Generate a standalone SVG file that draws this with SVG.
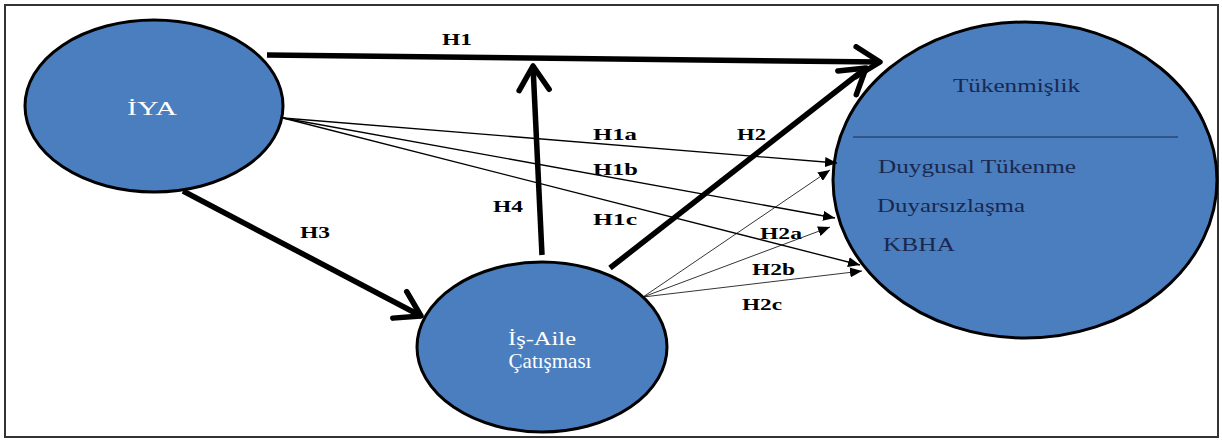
<svg xmlns="http://www.w3.org/2000/svg" width="1222" height="441" viewBox="0 0 1222 441">
<defs>
<style>
.node{fill:#4a7ebf;stroke:#000;stroke-width:3}
.thick{stroke:#000;stroke-width:5.5;fill:none;marker-end:url(#open)}
.thin{stroke:#000;stroke-width:1.3;fill:none;marker-end:url(#tri)}
.thin2{stroke:#000;stroke-width:0.8;fill:none;marker-end:url(#tri)}
.lbl{font-family:"Liberation Serif",serif;font-weight:bold;font-size:17px;fill:#000}
.wt{font-family:"Liberation Serif",serif;font-size:19px;fill:#fff}
.dk{font-family:"Liberation Serif",serif;font-size:19px;fill:#1a2850}
</style>
<marker id="open" markerUnits="userSpaceOnUse" viewBox="0 0 32 36" refX="29" refY="18" markerWidth="32" markerHeight="36" orient="auto">
<path d="M5,3 L29,18 L5,33" fill="none" stroke="#000" stroke-width="5.5" stroke-linecap="round" stroke-linejoin="round"/>
</marker>
<marker id="tri" markerUnits="userSpaceOnUse" viewBox="0 0 12 10" refX="12" refY="5" markerWidth="12" markerHeight="10" orient="auto">
<path d="M0,0 L12,5 L0,10 Z" fill="#000"/>
</marker>
</defs>
<rect x="5" y="5" width="1213" height="432" fill="#fff" stroke="#333" stroke-width="2"/>
<g id="node-iya">
<ellipse class="node" cx="154" cy="106" rx="129" ry="86"/>
<text class="wt" x="127" y="115" textLength="50" lengthAdjust="spacingAndGlyphs">İYA</text>
</g>
<g id="node-isaile">
<ellipse class="node" cx="542" cy="347" rx="125" ry="85"/>
<text class="wt" x="508" y="345" textLength="68" lengthAdjust="spacingAndGlyphs">İş-Aile</text>
<text class="wt" x="550" y="368" text-anchor="middle" style="font-size:21px">Çatışması</text>
</g>
<g id="node-tukenmislik">
<ellipse class="node" cx="1025" cy="180" rx="192" ry="158"/>
<text class="dk" x="953" y="92" textLength="127" lengthAdjust="spacingAndGlyphs">Tükenmişlik</text>
<line x1="853" y1="137" x2="1178" y2="137" stroke="#1a2850" stroke-width="1.2"/>
<text class="dk" x="878" y="173" textLength="198" lengthAdjust="spacingAndGlyphs">Duygusal Tükenme</text>
<text class="dk" x="877" y="212" textLength="148" lengthAdjust="spacingAndGlyphs">Duyarsızlaşma</text>
<text class="dk" x="883" y="251" textLength="72" lengthAdjust="spacingAndGlyphs">KBHA</text>
</g>
<g id="connectors">
<line class="thick" x1="267" y1="55" x2="880" y2="62"/>
<line class="thick" x1="542" y1="255" x2="533" y2="66"/>
<line class="thick" x1="183" y1="191" x2="421" y2="316"/>
<line class="thick" x1="610" y1="268" x2="866" y2="68"/>
<line class="thin" x1="283" y1="118" x2="837" y2="163"/>
<line class="thin" x1="283" y1="118" x2="835" y2="218"/>
<line class="thin" x1="283" y1="118" x2="860" y2="265"/>
<line class="thin2" x1="643" y1="297" x2="830" y2="170"/>
<line class="thin2" x1="643" y1="297" x2="830" y2="227"/>
<line class="thin2" x1="643" y1="297" x2="862" y2="271"/>
</g>
<g id="labels">
<text class="lbl" x="442" y="45" textLength="30" lengthAdjust="spacingAndGlyphs">H1</text>
<text class="lbl" x="593" y="140" textLength="44" lengthAdjust="spacingAndGlyphs">H1a</text>
<text class="lbl" x="737" y="140" textLength="29" lengthAdjust="spacingAndGlyphs">H2</text>
<text class="lbl" x="593" y="175" textLength="45" lengthAdjust="spacingAndGlyphs">H1b</text>
<text class="lbl" x="493" y="212" textLength="30" lengthAdjust="spacingAndGlyphs">H4</text>
<text class="lbl" x="593" y="225" textLength="44" lengthAdjust="spacingAndGlyphs">H1c</text>
<text class="lbl" x="760" y="239" textLength="42" lengthAdjust="spacingAndGlyphs">H2a</text>
<text class="lbl" x="752" y="275" textLength="43" lengthAdjust="spacingAndGlyphs">H2b</text>
<text class="lbl" x="742" y="310" textLength="40" lengthAdjust="spacingAndGlyphs">H2c</text>
<text class="lbl" x="300" y="238" textLength="30" lengthAdjust="spacingAndGlyphs">H3</text>
</g>
</svg>
